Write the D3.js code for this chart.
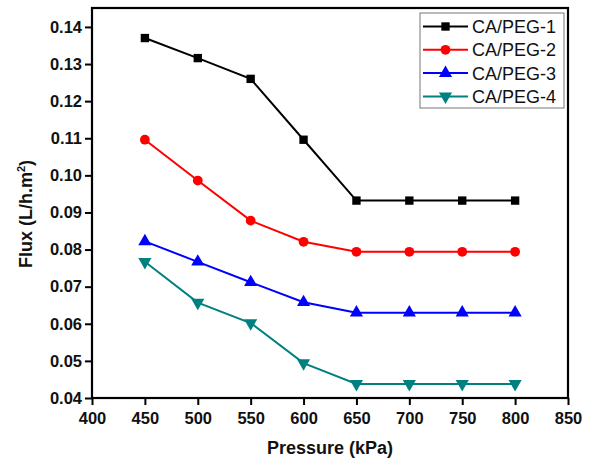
<!DOCTYPE html>
<html><head><meta charset="utf-8">
<script src="https://cdn.jsdelivr.net/npm/d3@7"></script>
<style>body{margin:0;background:#fff}svg{display:block}</style>
</head><body>
<script>
const pressures = [450, 500, 550, 600, 650, 700, 750, 800];
const peg1 = [0.1370, 0.1316, 0.1260, 0.1096, 0.0932, 0.0932, 0.0932, 0.0932];
const peg2 = [0.1096, 0.0986, 0.0878, 0.0821, 0.0794, 0.0794, 0.0794, 0.0794];
const peg3 = [0.0822, 0.0767, 0.0712, 0.0658, 0.0630, 0.0630, 0.0630, 0.0630];
const peg4 = [0.0767, 0.0657, 0.0602, 0.0494, 0.0438, 0.0438, 0.0438, 0.0438];
const seriesNames = ["CA/PEG-1", "CA/PEG-2", "CA/PEG-3", "CA/PEG-4"];
const xTicks = [400, 450, 500, 550, 600, 650, 700, 750, 800, 850];
const yTicks = [0.04, 0.05, 0.06, 0.07, 0.08, 0.09, 0.10, 0.11, 0.12, 0.13, 0.14];

const colors = ["#000000", "#ff0000", "#0000ff", "#008080"];
const symbols = [d3.symbolSquare, d3.symbolCircle, d3.symbolTriangle, "tridown"];
const series = [peg1, peg2, peg3, peg4].map((v, i) => ({name: seriesNames[i], values: v, color: colors[i], sym: symbols[i]}));

const W = 592, H = 459;
const m = {left: 92, right: 24, top: 8, bottom: 61};
const svg = d3.select("body").append("svg").attr("width", W).attr("height", H);
const x = d3.scaleLinear().domain([400, 850]).range([m.left, W - m.right]);
const y = d3.scaleLinear().domain([0.04, 0.1451]).range([H - m.bottom, m.top]);

function marker(g, sym, color, cx, cy) {
  if (sym === "tridown") {
    g.append("path").attr("d", d3.symbol(d3.symbolTriangle, 75)())
      .attr("transform", `translate(${cx},${cy}) rotate(180)`).attr("fill", color);
  } else {
    const size = sym === d3.symbolSquare ? 70 : 75;
    g.append("path").attr("d", d3.symbol(sym, size)())
      .attr("transform", `translate(${cx},${cy})`).attr("fill", color);
  }
}

// axes
const fontTick = "bold 16.5px 'Liberation Sans', Arial, sans-serif";
const xAxis = svg.append("g").attr("transform", `translate(0,${H - m.bottom})`)
  .call(d3.axisBottom(x).tickValues(xTicks).tickSize(7).tickPadding(7).tickFormat(d3.format("d")));
const yAxis = svg.append("g").attr("transform", `translate(${m.left},0)`)
  .call(d3.axisLeft(y).tickValues(yTicks).tickSize(7).tickPadding(3).tickFormat(d3.format(".2f")));
[xAxis, yAxis].forEach(a => {
  a.select(".domain").remove();
  a.selectAll(".tick line").attr("stroke", "#000").attr("stroke-width", 2);
  a.selectAll(".tick text").style("font", fontTick).attr("fill", "#111");
});
// frame
svg.append("rect").attr("x", m.left).attr("y", m.top)
  .attr("width", W - m.right - m.left).attr("height", H - m.bottom - m.top)
  .attr("fill", "none").attr("stroke", "#000").attr("stroke-width", 2.2);

// lines
const line = d3.line().x((d, i) => x(pressures[i])).y(d => y(d));
series.forEach(s => {
  svg.append("path").datum(s.values).attr("d", line)
    .attr("fill", "none").attr("stroke", s.color).attr("stroke-width", 2);
  const g = svg.append("g");
  s.values.forEach((v, i) => marker(g, s.sym, s.color, x(pressures[i]), y(v)));
});

// legend
const lg = svg.append("g");
lg.append("rect").attr("x", 420).attr("y", 13).attr("width", 144).attr("height", 95)
  .attr("fill", "#fff").attr("stroke", "#777").attr("stroke-width", 1);
series.forEach((s, i) => {
  const ly = 26.5 + i * 23.3;
  lg.append("line").attr("x1", 423).attr("x2", 468).attr("y1", ly).attr("y2", ly)
    .attr("stroke", s.color).attr("stroke-width", 2);
  marker(lg, s.sym, s.color, 445.5, ly);
  lg.append("text").attr("x", 472).attr("y", ly).attr("dy", "0.36em")
    .style("font", "18px 'Liberation Sans', Arial, sans-serif").attr("fill", "#111").text(s.name);
});

// axis titles
svg.append("text").attr("x", 330).attr("y", 454).attr("text-anchor", "middle")
  .style("font", "bold 18px 'Liberation Sans', Arial, sans-serif").attr("fill", "#111")
  .text("Pressure (kPa)");
const yt = svg.append("text").attr("transform", `translate(32,214) rotate(-90)`)
  .attr("text-anchor", "middle")
  .style("font", "bold 18px 'Liberation Sans', Arial, sans-serif").attr("fill", "#111");
yt.append("tspan").text("Flux (L/h.m");
yt.append("tspan").attr("dy", -7).style("font-size", "11px").text("2");
yt.append("tspan").attr("dy", 7).text(")");
</script>
</body></html>
